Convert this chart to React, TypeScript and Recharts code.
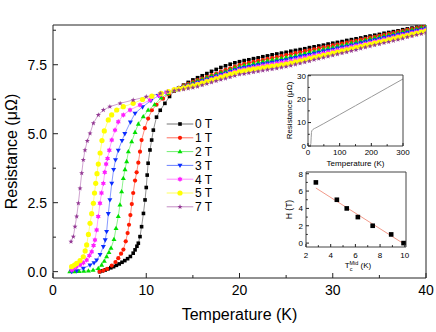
import React from "react";
import { Line, LineChart, XAxis, YAxis } from "recharts";

const FONT = "'Liberation Sans', Arial, sans-serif";

// normal-state temperatures shared by all field curves (K)
const tNormal = [13.5, 14, 14.5, 15, 15.5, 16, 16.5, 17, 17.5, 18, 18.5, 19, 19.5, 20, 20.5, 21, 21.5, 22, 22.5, 23, 23.5, 24, 24.5, 25, 25.5, 26, 26.5, 27, 27.5, 28, 28.5, 29, 29.5, 30, 30.5, 31, 31.5, 32, 32.5, 33, 33.5, 34, 34.5, 35, 35.5, 36, 36.5, 37, 37.5, 38, 38.5, 39, 39.5, 40];

// 0 T
const t0Low = [5.0, 5.3, 5.6, 5.9, 6.2, 6.5, 6.8, 7.1, 7.4, 7.7, 8.0, 8.3, 8.6, 8.8, 9.0, 9.15, 9.33, 9.5, 9.7, 9.87, 10.0, 10.1, 10.2, 10.4, 10.58, 10.76, 11.1, 11.5, 12.0, 12.5, 13.0];
const r0Low = [0.0, 0.03, 0.06, 0.1, 0.14, 0.18, 0.23, 0.28, 0.34, 0.4, 0.47, 0.55, 0.67, 0.79, 0.92, 1.03, 1.27, 1.63, 2.11, 2.6, 3.05, 3.5, 3.93, 4.41, 4.77, 5.13, 5.6, 5.85, 6.1, 6.35, 6.55];
const r0High = [6.66, 6.76, 6.86, 6.95, 7.03, 7.1, 7.18, 7.26, 7.33, 7.4, 7.46, 7.52, 7.57, 7.61, 7.65, 7.68, 7.72, 7.75, 7.79, 7.82, 7.86, 7.89, 7.92, 7.95, 7.99, 8.02, 8.05, 8.08, 8.12, 8.15, 8.18, 8.21, 8.25, 8.28, 8.31, 8.34, 8.38, 8.41, 8.44, 8.47, 8.51, 8.54, 8.57, 8.6, 8.64, 8.67, 8.7, 8.73, 8.77, 8.8, 8.83, 8.86, 8.9, 8.93];

// 1 T
const t1Low = [5.0, 5.4, 5.8, 6.3, 6.7, 7.0, 7.3, 7.55, 7.8, 8.0, 8.15, 8.3, 8.45, 8.6, 8.8, 8.97, 9.15, 9.33, 9.5, 9.85, 10.2, 10.6, 11.1, 11.8, 12.4, 13.0];
const r1Low = [0.0, 0.04, 0.1, 0.22, 0.35, 0.49, 0.65, 0.8, 1.1, 1.4, 1.7, 2.05, 2.45, 2.85, 3.3, 3.6, 3.95, 4.35, 4.77, 5.2, 5.55, 5.85, 6.05, 6.27, 6.43, 6.57];
const r1High = [6.66, 6.74, 6.81, 6.88, 6.94, 7.0, 7.06, 7.12, 7.18, 7.25, 7.31, 7.37, 7.43, 7.49, 7.53, 7.57, 7.6, 7.64, 7.67, 7.71, 7.74, 7.78, 7.81, 7.85, 7.88, 7.92, 7.95, 7.99, 8.02, 8.06, 8.09, 8.13, 8.16, 8.2, 8.23, 8.27, 8.3, 8.34, 8.37, 8.41, 8.44, 8.48, 8.51, 8.55, 8.58, 8.62, 8.65, 8.69, 8.72, 8.76, 8.79, 8.83, 8.86, 8.9];

// 2 T
const t2Low = [1.8, 2.3, 2.8, 3.3, 3.8, 4.3, 4.86, 5.22, 5.5, 5.75, 6.0, 6.22, 6.54, 6.76, 7.0, 7.18, 7.36, 7.54, 7.72, 7.9, 8.08, 8.44, 8.8, 9.15, 9.68, 10.2, 10.9, 11.6, 12.3, 13.0];
const r2Low = [0.0, 0.0, 0.01, 0.02, 0.03, 0.05, 0.12, 0.24, 0.38, 0.54, 0.7, 0.85, 1.17, 1.57, 2.0, 2.42, 2.9, 3.38, 3.7, 3.99, 4.35, 4.71, 5.05, 5.35, 5.62, 5.85, 6.05, 6.3, 6.45, 6.58];
const r2High = [6.65, 6.72, 6.78, 6.85, 6.91, 6.97, 7.03, 7.09, 7.15, 7.2, 7.26, 7.32, 7.38, 7.43, 7.47, 7.5, 7.54, 7.57, 7.61, 7.64, 7.67, 7.7, 7.73, 7.76, 7.8, 7.83, 7.87, 7.91, 7.95, 7.98, 8.02, 8.06, 8.1, 8.13, 8.17, 8.2, 8.24, 8.28, 8.32, 8.35, 8.39, 8.43, 8.47, 8.5, 8.54, 8.57, 8.61, 8.65, 8.69, 8.72, 8.76, 8.8, 8.84, 8.87];

// 3 T
const t3Low = [2.0, 2.54, 3.25, 3.97, 4.4, 4.68, 5.05, 5.4, 5.6, 5.75, 5.93, 6.1, 6.3, 6.5, 6.7, 7.0, 7.4, 7.7, 8.3, 8.8, 9.6, 10.5, 11.3, 12.2, 13.0];
const r3Low = [0.0, 0.03, 0.12, 0.24, 0.32, 0.42, 0.62, 0.91, 1.15, 1.45, 2.1, 2.6, 3.2, 3.7, 4.05, 4.4, 4.75, 5.0, 5.42, 5.74, 5.97, 6.2, 6.38, 6.5, 6.6];
const r3High = [6.65, 6.7, 6.75, 6.8, 6.86, 6.92, 6.97, 7.03, 7.09, 7.15, 7.2, 7.26, 7.31, 7.37, 7.4, 7.43, 7.46, 7.5, 7.53, 7.56, 7.59, 7.62, 7.65, 7.68, 7.72, 7.76, 7.8, 7.83, 7.87, 7.91, 7.95, 7.99, 8.02, 8.06, 8.1, 8.14, 8.17, 8.21, 8.25, 8.29, 8.33, 8.37, 8.4, 8.44, 8.48, 8.52, 8.56, 8.6, 8.63, 8.67, 8.71, 8.75, 8.78, 8.82];

// 4 T
const t4Low = [2.0, 2.18, 2.5, 2.9, 3.25, 3.61, 3.9, 4.15, 4.35, 4.5, 4.68, 4.85, 5.04, 5.2, 5.4, 5.55, 5.7, 5.85, 6.04, 6.3, 6.65, 7.0, 7.54, 8.26, 9.33, 10.4, 11.4, 12.2, 13.0];
const r4Low = [0.06, 0.1, 0.17, 0.24, 0.32, 0.42, 0.58, 0.72, 0.95, 1.15, 1.51, 2.0, 2.48, 2.85, 3.2, 3.6, 3.9, 4.1, 4.4, 4.77, 5.13, 5.43, 5.68, 5.86, 6.04, 6.22, 6.38, 6.5, 6.6];
const r4High = [6.64, 6.68, 6.72, 6.76, 6.82, 6.87, 6.93, 6.98, 7.04, 7.09, 7.15, 7.2, 7.26, 7.31, 7.34, 7.37, 7.4, 7.43, 7.46, 7.49, 7.52, 7.55, 7.58, 7.6, 7.64, 7.68, 7.72, 7.76, 7.8, 7.83, 7.87, 7.91, 7.95, 7.99, 8.03, 8.07, 8.11, 8.15, 8.19, 8.22, 8.26, 8.3, 8.34, 8.38, 8.42, 8.46, 8.5, 8.54, 8.58, 8.61, 8.65, 8.69, 8.73, 8.77];

// 5 T
const t5Low = [2.0, 2.3, 2.54, 2.9, 3.25, 3.45, 3.61, 3.8, 3.97, 4.15, 4.33, 4.45, 4.58, 4.72, 4.86, 5.05, 5.25, 5.5, 5.93, 6.29, 6.83, 7.54, 8.6, 9.6, 10.6, 11.6, 12.4, 13.0];
const r5Low = [0.18, 0.24, 0.3, 0.4, 0.54, 0.75, 0.97, 1.35, 1.75, 2.1, 2.48, 2.85, 3.2, 3.55, 3.9, 4.3, 4.75, 5.1, 5.5, 5.68, 5.86, 5.98, 6.1, 6.24, 6.36, 6.46, 6.53, 6.6];
const r5High = [6.63, 6.66, 6.7, 6.73, 6.78, 6.83, 6.89, 6.94, 6.99, 7.04, 7.1, 7.15, 7.2, 7.25, 7.28, 7.31, 7.34, 7.36, 7.39, 7.42, 7.45, 7.47, 7.5, 7.52, 7.56, 7.6, 7.64, 7.68, 7.72, 7.76, 7.8, 7.84, 7.88, 7.92, 7.96, 8.0, 8.04, 8.08, 8.12, 8.16, 8.2, 8.24, 8.28, 8.32, 8.36, 8.4, 8.44, 8.48, 8.52, 8.56, 8.6, 8.64, 8.68, 8.72];

// 7 T
const t7Low = [1.93, 2.18, 2.36, 2.54, 2.72, 2.9, 3.08, 3.25, 3.43, 3.68, 3.97, 4.33, 4.86, 5.4, 6.1, 7.2, 8.6, 10.0, 11.5, 12.3, 13.0];
const r7Low = [1.09, 1.27, 1.63, 2.0, 2.48, 3.02, 3.57, 4.05, 4.4, 4.74, 5.01, 5.38, 5.68, 5.86, 5.98, 6.1, 6.22, 6.34, 6.46, 6.52, 6.56];
const r7High = [6.58, 6.61, 6.64, 6.67, 6.71, 6.76, 6.81, 6.86, 6.91, 6.96, 7.0, 7.05, 7.1, 7.15, 7.17, 7.2, 7.23, 7.26, 7.29, 7.32, 7.34, 7.37, 7.4, 7.43, 7.47, 7.51, 7.55, 7.59, 7.63, 7.68, 7.72, 7.76, 7.8, 7.84, 7.88, 7.92, 7.96, 8.0, 8.04, 8.09, 8.13, 8.17, 8.21, 8.25, 8.29, 8.33, 8.37, 8.41, 8.45, 8.5, 8.54, 8.58, 8.62, 8.66];

// inset 1: wide range R(T)
const insetT = [5, 8, 9, 10, 11, 12, 15, 20, 25, 50, 100, 150, 200, 250, 300];
const insetR = [0, 0.4, 1, 3.5, 5.8, 6.5, 7.0, 7.45, 7.75, 9.6, 13.4, 17.2, 21, 24.8, 28.6];

// inset 2: H vs Tc(mid)
const tcMid = [2.8, 4.5, 5.3, 6.2, 7.4, 8.9, 9.9];
const fieldH = [7, 5, 4, 3, 2, 1, 0];
const fitT = [2.8, 10.0];
const fitH = [6.35, -0.15];

const mainXTicks = [0, 5, 10, 15, 20, 25, 30, 35, 40];
const mainYTicks = [0, 1.25, 2.5, 3.75, 5, 6.25, 7.5, 8.75];

type Shape = "square" | "circle" | "up" | "down" | "flower" | "bigcircle" | "star";

const zip = (t: number[], r: number[]) => t.map((x, i) => ({ t: x, r: r[i] }));

const series = [
  { name: "0 T", data: zip([...t0Low, ...tNormal], [...r0Low, ...r0High]), color: "#000000", line: "#777777", shape: "square" as Shape },
  { name: "1 T", data: zip([...t1Low, ...tNormal], [...r1Low, ...r1High]), color: "#ff1a00", line: "#ff7060", shape: "circle" as Shape },
  { name: "2 T", data: zip([...t2Low, ...tNormal], [...r2Low, ...r2High]), color: "#00e000", line: "#70f070", shape: "up" as Shape },
  { name: "3 T", data: zip([...t3Low, ...tNormal], [...r3Low, ...r3High]), color: "#0a2cff", line: "#6a80ff", shape: "down" as Shape },
  { name: "4 T", data: zip([...t4Low, ...tNormal], [...r4Low, ...r4High]), color: "#ff20ff", line: "#ff8cff", shape: "flower" as Shape },
  { name: "5 T", data: zip([...t5Low, ...tNormal], [...r5Low, ...r5High]), color: "#ffff00", line: "#ffff60", shape: "bigcircle" as Shape },
  { name: "7 T", data: zip([...t7Low, ...tNormal], [...r7Low, ...r7High]), color: "#943a94", line: "#c48cc4", shape: "star" as Shape },
];

function starPoints(cx: number, cy: number, n: number, ro: number, ri: number, rot: number) {
  const pts: string[] = [];
  for (let i = 0; i < n * 2; i++) {
    const a = rot + (Math.PI * i) / n;
    const rr = i % 2 === 0 ? ro : ri;
    pts.push(`${cx + rr * Math.sin(a)},${cy - rr * Math.cos(a)}`);
  }
  return pts.join(" ");
}

function Marker({ shape, cx, cy, color }: { shape: Shape; cx: number; cy: number; color: string }) {
  switch (shape) {
    case "square":
      return <rect x={cx - 1.8} y={cy - 1.8} width={3.6} height={3.6} fill={color} />;
    case "circle":
      return <circle cx={cx} cy={cy} r={2.1} fill={color} />;
    case "up":
      return <polygon points={`${cx},${cy - 2.7} ${cx + 2.5},${cy + 1.6} ${cx - 2.5},${cy + 1.6}`} fill={color} />;
    case "down":
      return <polygon points={`${cx},${cy + 2.7} ${cx + 2.5},${cy - 1.6} ${cx - 2.5},${cy - 1.6}`} fill={color} />;
    case "flower":
      return <polygon points={starPoints(cx, cy, 6, 2.8, 1.7, 0)} fill={color} />;
    case "bigcircle":
      return <circle cx={cx} cy={cy} r={2.6} fill={color} />;
    default:
      return <polygon points={starPoints(cx, cy, 5, 2.7, 1.1, 0)} fill={color} />;
  }
}

type Side = "bottom" | "left" | "top" | "right";

function tickRenderer(side: Side, majors: number[], fmt: (v: number) => string, font: number, len: number, gap: number) {
  return (props: any) => {
    const { x, y, payload } = props;
    const v = payload.value as number;
    const major = majors.some((m) => Math.abs(m - v) < 1e-9);
    const l = major ? len : len * 0.6;
    let line = null;
    let label = null;
    if (side === "bottom") {
      line = <line x1={x} y1={y} x2={x} y2={y - l} />;
      if (major) label = <text x={x} y={y + gap} textAnchor="middle">{fmt(v)}</text>;
    } else if (side === "top") {
      line = <line x1={x} y1={y} x2={x} y2={y + l} />;
    } else if (side === "left") {
      line = <line x1={x} y1={y} x2={x + l} y2={y} />;
      if (major) label = <text x={x - gap} y={y + font * 0.36} textAnchor="end">{fmt(v)}</text>;
    } else {
      line = <line x1={x} y1={y} x2={x - l} y2={y} />;
    }
    return (
      <g>
        <g stroke="#222" strokeWidth={1}>{line}</g>
        {label && <g fill="#000" fontSize={font} fontFamily={FONT}>{label}</g>}
      </g>
    );
  };
}

const none = (v: number) => String(v);

function MainChart() {
  return (
    <LineChart width={436} height={332} margin={{ top: 20, right: 5, bottom: 24, left: 13 }}>
      <XAxis
        xAxisId="b"
        dataKey="t"
        type="number"
        domain={[0, 40]}
        ticks={mainXTicks}
        interval={0}
        tickSize={0}
        tickMargin={0}
        height={30}
        stroke="#222"
        allowDataOverflow
        tick={tickRenderer("bottom", [0, 10, 20, 30, 40], (v) => String(v), 14, 5, 17)}
        label={{
          content: ({ viewBox }: any) => (
            <text x={viewBox.x + viewBox.width / 2} y={viewBox.y + 42} textAnchor="middle" fontSize={16} fontFamily={FONT} fill="#000">
              Temperature (K)
            </text>
          ),
        }}
      />
      <XAxis xAxisId="t" orientation="top" type="number" domain={[0, 40]} ticks={mainXTicks} interval={0} tickSize={0} tickMargin={0} height={5} stroke="#222" tick={tickRenderer("top", [0, 10, 20, 30, 40], none, 14, 5, 0)} />
      <YAxis
        yAxisId="l"
        type="number"
        domain={[-0.23, 8.94]}
        ticks={mainYTicks}
        interval={0}
        tickSize={0}
        tickMargin={0}
        width={40}
        stroke="#222"
        allowDataOverflow
        tick={tickRenderer("left", [0, 2.5, 5, 7.5], (v) => v.toFixed(1), 14, 5, 6)}
        label={{
          content: ({ viewBox }: any) => {
            const x = viewBox.x + 4;
            const y = viewBox.y + viewBox.height / 2;
            return (
              <text x={x} y={y} transform={`rotate(-90 ${x} ${y})`} textAnchor="middle" fontSize={16} fontFamily={FONT} fill="#000">
                Resistance (μΩ)
              </text>
            );
          },
        }}
      />
      <YAxis yAxisId="r" orientation="right" type="number" domain={[-0.23, 8.94]} ticks={mainYTicks} interval={0} tickSize={0} tickMargin={0} width={5} stroke="#222" tick={tickRenderer("right", [0, 2.5, 5, 7.5], none, 14, 5, 0)} />
      {series.map((s) => (
        <Line
          key={s.name}
          xAxisId="b"
          yAxisId="l"
          data={s.data}
          dataKey="r"
          stroke={s.line}
          strokeWidth={0.8}
          isAnimationActive={false}
          activeDot={false}
          dot={(p: any) => (p.cx == null ? <g key={`${s.name}-${p.index}`} /> : <Marker key={`${s.name}-${p.index}`} shape={s.shape} cx={p.cx} cy={p.cy} color={s.color} />)}
        />
      ))}
    </LineChart>
  );
}

function LegendBox() {
  return (
    <svg width={70} height={100} style={{ position: "absolute", left: 160, top: 115 }}>
      {series.map((s, i) => {
        const cy = 9 + i * 13.8;
        return (
          <g key={s.name}>
            <line x1={6.7} x2={33.3} y1={cy} y2={cy} stroke={s.line} strokeWidth={1} />
            <Marker shape={s.shape} cx={20} cy={cy} color={s.color} />
            <text x={35} y={cy + 4.3} fontSize={12} fontFamily={FONT} fill="#000">
              {s.name}
            </text>
          </g>
        );
      })}
    </svg>
  );
}

function InsetWide() {
  const data = zip(insetT, insetR);
  return (
    <div style={{ position: "absolute", left: 270, top: 60 }}>
      <LineChart width={140} height={115} margin={{ top: 12, right: 4, bottom: 9, left: 8 }}>
        <XAxis
          xAxisId="b"
          dataKey="t"
          type="number"
          domain={[0, 300]}
          ticks={[0, 50, 100, 150, 200, 250, 300]}
          interval={0}
          tickSize={0}
          tickMargin={0}
          height={20}
          stroke="#444"
          tick={tickRenderer("bottom", [0, 100, 200, 300], (v) => String(v), 8, 3, 9)}
          label={{
            content: ({ viewBox }: any) => (
              <text x={viewBox.x + viewBox.width / 2} y={viewBox.y + 20} textAnchor="middle" fontSize={8} fontFamily={FONT} fill="#000">
                Temperature (K)
              </text>
            ),
          }}
        />
        <XAxis xAxisId="t" orientation="top" type="number" domain={[0, 300]} ticks={[0, 50, 100, 150, 200, 250, 300]} interval={0} tickSize={0} tickMargin={0} height={3} stroke="#444" tick={tickRenderer("top", [0, 100, 200, 300], none, 8, 3, 0)} />
        <YAxis
          yAxisId="l"
          type="number"
          domain={[0, 30.3]}
          ticks={[0, 5, 10, 15, 20, 25, 30]}
          interval={0}
          tickSize={0}
          tickMargin={0}
          width={30}
          stroke="#444"
          tick={tickRenderer("left", [0, 10, 20, 30], (v) => String(v), 8, 3, 2)}
          label={{
            content: ({ viewBox }: any) => {
              const x = viewBox.x + 14;
              const y = viewBox.y + viewBox.height / 2;
              return (
                <text x={x} y={y} transform={`rotate(-90 ${x} ${y})`} textAnchor="middle" fontSize={8} fontFamily={FONT} fill="#000">
                  Resistance (μΩ)
                </text>
              );
            },
          }}
        />
        <YAxis yAxisId="r" orientation="right" type="number" domain={[0, 30.3]} ticks={[0, 5, 10, 15, 20, 25, 30]} interval={0} tickSize={0} tickMargin={0} width={3} stroke="#444" tick={tickRenderer("right", [0, 10, 20, 30], none, 8, 3, 0)} />
        <Line xAxisId="b" yAxisId="l" data={data} dataKey="r" stroke="#9a9a9a" strokeWidth={1} dot={false} activeDot={false} isAnimationActive={false} />
      </LineChart>
    </div>
  );
}

function InsetField() {
  const pts = zip(tcMid, fieldH);
  const fit = zip(fitT, fitH);
  return (
    <div style={{ position: "absolute", left: 268, top: 160 }}>
      <LineChart width={145} height={115} margin={{ top: 9, right: 4, bottom: 8, left: 8 }}>
        <XAxis
          xAxisId="b"
          dataKey="t"
          type="number"
          domain={[2, 10.1]}
          ticks={[2, 3, 4, 5, 6, 7, 8, 9, 10]}
          interval={0}
          tickSize={0}
          tickMargin={0}
          height={20}
          stroke="#444"
          allowDataOverflow
          tick={tickRenderer("bottom", [2, 4, 6, 8, 10], (v) => String(v), 8, 3, 10.5)}
          label={{
            content: ({ viewBox }: any) => (
              <text x={viewBox.x + viewBox.width / 2 + 2} y={viewBox.y + 21} textAnchor="middle" fontSize={8} fontFamily={FONT} fill="#000">
                <tspan>T</tspan>
                <tspan fontSize={5.5} dy={2.5}>c</tspan>
                <tspan fontSize={5.5} dx={-3} dy={-6}>Mid</tspan>
                <tspan dy={3.5}> (K)</tspan>
              </text>
            ),
          }}
        />
        <XAxis xAxisId="t" orientation="top" type="number" domain={[2, 10.1]} ticks={[2, 3, 4, 5, 6, 7, 8, 9, 10]} interval={0} tickSize={0} tickMargin={0} height={3} stroke="#444" tick={tickRenderer("top", [2, 4, 6, 8, 10], none, 8, 3, 0)} />
        <YAxis
          yAxisId="l"
          type="number"
          domain={[-0.45, 8.2]}
          ticks={[0, 1, 2, 3, 4, 5, 6, 7, 8]}
          interval={0}
          tickSize={0}
          tickMargin={0}
          width={30}
          stroke="#444"
          allowDataOverflow
          tick={tickRenderer("left", [0, 2, 4, 6, 8], (v) => String(v), 8, 3, 3)}
          label={{
            content: ({ viewBox }: any) => {
              const x = viewBox.x + 16;
              const y = viewBox.y + viewBox.height / 2;
              return (
                <text x={x} y={y} transform={`rotate(-90 ${x} ${y})`} textAnchor="middle" fontSize={8.5} fontFamily={FONT} fill="#000">
                  H (T)
                </text>
              );
            },
          }}
        />
        <YAxis yAxisId="r" orientation="right" type="number" domain={[-0.45, 8.2]} ticks={[0, 1, 2, 3, 4, 5, 6, 7, 8]} interval={0} tickSize={0} tickMargin={0} width={3} stroke="#444" tick={tickRenderer("right", [0, 2, 4, 6, 8], none, 8, 3, 0)} />
        <Line xAxisId="b" yAxisId="l" data={fit} dataKey="r" stroke="#f29a8a" strokeWidth={1} dot={false} activeDot={false} isAnimationActive={false} />
        <Line
          xAxisId="b"
          yAxisId="l"
          data={pts}
          dataKey="r"
          stroke="none"
          isAnimationActive={false}
          activeDot={false}
          dot={(p: any) => <rect key={`h-${p.index}`} x={p.cx - 2.3} y={p.cy - 2.3} width={4.6} height={4.6} fill="#000" />}
        />
      </LineChart>
    </div>
  );
}

export default function App() {
  return (
    <div style={{ position: "absolute", left: 0, top: 0, width: 436, height: 332, background: "#fff" }}>
      <MainChart />
      <LegendBox />
      <InsetWide />
      <InsetField />
    </div>
  );
}
